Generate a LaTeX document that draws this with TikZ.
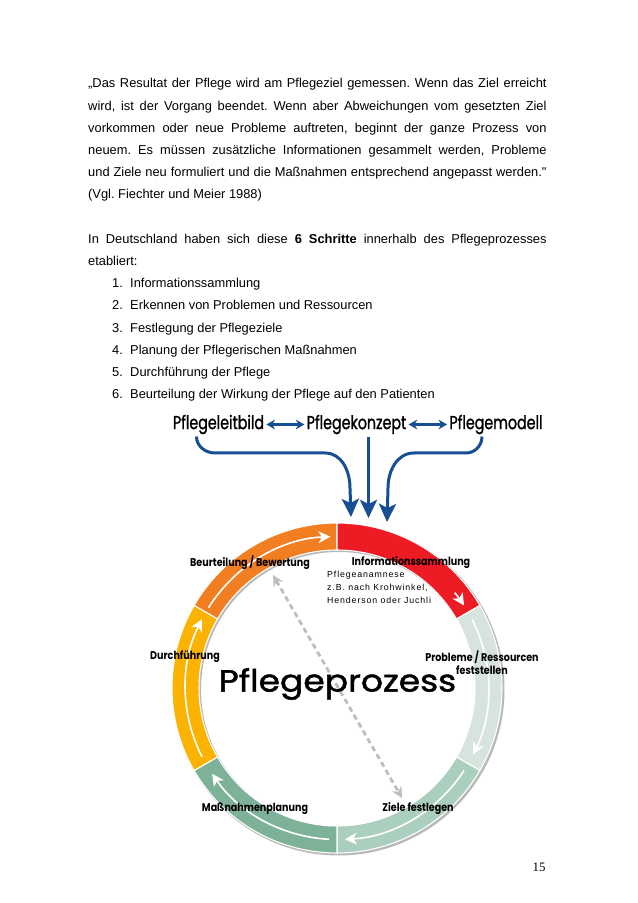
\documentclass[tikz,border=0pt]{standalone}
\usepackage{fontspec}
\setmainfont[Ligatures=TeXOff]{Liberation Sans}
\newfontfamily\pagefont{Liberation Serif}
\newfontfamily\headfont[FakeStretch=0.76, FakeBold=1.2]{Poppins}
\newfontfamily\labelfont[FakeStretch=0.85]{Poppins}
\newfontfamily\titlefont[FakeStretch=1.13, FakeBold=1.6]{Poppins}
\newfontfamily\notefont[LetterSpace=10]{Liberation Sans}
\usetikzlibrary{arrows.meta, positioning}

\definecolor{pfblue}{RGB}{24,78,148}
\definecolor{pforange}{RGB}{241,127,33}
\definecolor{pfred}{RGB}{237,28,36}
\definecolor{pfpale}{RGB}{215,227,221}
\definecolor{pfsage}{RGB}{170,207,190}
\definecolor{pfgreen}{RGB}{126,178,152}
\definecolor{pfyellow}{RGB}{251,178,0}
\definecolor{pfdash}{RGB}{190,190,190}

\begin{document}
\frenchspacing
\begin{tikzpicture}[x=0.9329pt, y=0.9329pt,
  bodytext/.style={anchor=base west, inner sep=0, text width=427.6pt,
    align=justify, font=\fontsize{12}{20.71}\selectfont},
  listtext/.style={anchor=base west, inner sep=0, font=\fontsize{12}{20.71}\selectfont},
  concept/.style={font=\headfont\fontsize{17.5}{17.5}\selectfont, inner sep=2pt},
  steplabel/.style={font=\labelfont\bfseries\fontsize{10.5}{12.1}\selectfont,
    align=center, inner sep=0},
  notetext/.style={anchor=north west, align=left, inner sep=0,
    font=\notefont\fontsize{8.2}{12.1}\selectfont},
  ringpart/.style={draw=white, line width=1pt},
  ringflow/.style={draw=white, line width=1.5pt, -{Stealth[length=11pt, width=11pt, inset=3pt]}},
  feed/.style={draw=pfblue, line width=2.8pt, -{Stealth[length=17pt, width=16pt, inset=4pt]}},
  pair/.style={draw=pfblue, line width=2.4pt,
    {Stealth[length=8pt, width=9pt]}-{Stealth[length=8pt, width=9pt]}},
  review/.style={draw=pfdash, line width=2.6pt, dash pattern=on 5pt off 3.5pt,
    {Stealth[length=10pt, width=10pt]}-{Stealth[length=10pt, width=10pt]}}]

  % page
  \fill[white] (0,0) rectangle (638,903);
  \useasboundingbox (0,0) rectangle (638,903);

  % body text
  \node (quote) [bodytext] at (88,815) {„Das Resultat der Pflege wird am Pflegeziel gemessen. Wenn das Ziel erreicht\linebreak
    wird, ist der Vorgang beendet. Wenn aber Abweichungen vom gesetzten Ziel\linebreak
    vorkommen oder neue Probleme auftreten, beginnt der ganze Prozess von\linebreak
    neuem. Es müssen zusätzliche Informationen gesammelt werden, Probleme\linebreak
    und Ziele neu formuliert und die Maßnahmen entsprechend angepasst werden."\linebreak
    (Vgl. Fiechter und Meier 1988)};
  \node (intro) [bodytext] at (88,659.6) {In Deutschland haben sich diese \textbf{6 Schritte} innerhalb des Pflegeprozesses\linebreak etabliert:};
  \foreach \n/\t in {1/Informationssammlung, 2/Erkennen von Problemen und Ressourcen,
                     3/Festlegung der Pflegeziele, 4/Planung der Pflegerischen Maßnahmen,
                     5/Durchführung der Pflege, 6/Beurteilung der Wirkung der Pflege auf den Patienten} {
    \node (num\n) [listtext] at (112,{815-(8+\n)*22.2}) {\n.};
    \node (item\n) [listtext] at (130,{815-(8+\n)*22.2}) {\t};
  }

  % concepts
  \node (leitbild) [concept] at (218.5,478.5) {Pflegeleitbild};
  \node (konzept)  [concept] at (356.5,478.5) {Pflegekonzept};
  \node (modell)   [concept] at (496,478.5)   {Pflegemodell};
  \draw[pair] (leitbild) -- (konzept);
  \draw[pair] (konzept) -- (modell);

  % ring
  \coordinate (ring) at (337,215);
  \fill[gray!55, even odd rule] ([shift={(1.5,-1.5)}]ring) circle[radius=166]
    ([shift={(1.5,-1.5)}]ring) circle[radius=137.5];
  \foreach \a/\b/\c in {150/90/pforange, 90/30/pfred, 30/-30/pfpale,
                        -30/-90/pfsage, -90/-150/pfgreen, 210/150/pfyellow}
    \filldraw[ringpart, fill=\c] ([shift={(\a:165)}]ring) arc[start angle=\a, end angle=\b, radius=165]
      -- ([shift={(\b:138)}]ring) arc[start angle=\b, end angle=\a, radius=138] -- cycle;
  \foreach \s/\e in {148/92.5, 39/33, 27/-26, -33/-87, -93/-145.5, 207/153}
    \draw[ringflow] ([shift={(\s:151.5)}]ring) arc[start angle=\s, end angle=\e, radius=151.5];

  % evaluation link
  \coordinate (revtop) at (273,328);
  \coordinate (revbot) at (402,105);
  \draw[review] (revtop) -- (revbot);

  % feeding arrows
  \coordinate (feedL) at (351,386);
  \coordinate (feedM) at (368.5,385);
  \coordinate (feedR) at (387,381);
  \draw[feed] ([shift={(-22,0)}]leitbild.south) to[out=-90,in=180] (215,450)
    -- (325,450) to[out=0,in=90] (350,415) -- (feedL);
  \draw[feed] (konzept.south -| feedM) -- (feedM);
  \draw[feed] ([shift={(-14,0)}]modell.south) to[out=-90,in=0] (466,450)
    -- (414,450) to[out=180,in=90] (388,415) -- (feedR);

  % labels
  \node (bewertung) [steplabel] at (250,340.5) {Beurteilung / Bewertung};
  \node (sammlung)  [steplabel] at (411,340.5) {Informationssammlung};
  \node (anamnese)  [notetext]  at (327,332.5) {Pflegeanamnese\\z.B. nach Krohwinkel,\\Henderson oder Juchli};
  \node (probleme)  [steplabel] at (482,240)   {Probleme / Ressourcen\\feststellen};
  \node (durchf)    [steplabel] at (185,246)   {Durchführung};
  \node (prozess)   [font=\titlefont\fontsize{28.5}{28.5}\selectfont, inner sep=0] at (337.5,219) {Pflegeprozess};
  \node (planung)   [steplabel] at (255,94)    {Maßnahmenplanung};
  \node (ziele)     [steplabel] at (418,94)    {Ziele festlegen};
  \node (page)      [font=\pagefont\fontsize{12}{14}\selectfont] at (539,36) {15};
\end{tikzpicture}
\end{document}
